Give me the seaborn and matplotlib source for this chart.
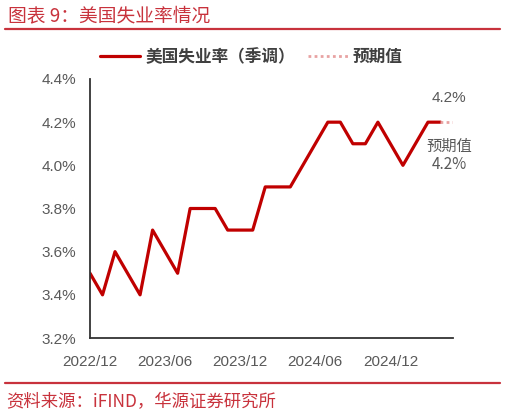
import matplotlib
matplotlib.use("Agg")
import matplotlib.pyplot as plt
import seaborn as sns
import pandas as pd
from matplotlib.lines import Line2D

# ---- data ----
months = ["2022/12", "2023/01", "2023/02", "2023/03", "2023/04", "2023/05", "2023/06",
          "2023/07", "2023/08", "2023/09", "2023/10", "2023/11", "2023/12", "2024/01",
          "2024/02", "2024/03", "2024/04", "2024/05", "2024/06", "2024/07", "2024/08",
          "2024/09", "2024/10", "2024/11", "2024/12", "2025/01", "2025/02", "2025/03",
          "2025/04"]
rates = [3.5, 3.4, 3.6, 3.5, 3.4, 3.7, 3.6, 3.5, 3.8, 3.8, 3.8, 3.7, 3.7, 3.7,
         3.9, 3.9, 3.9, 4.0, 4.1, 4.2, 4.2, 4.1, 4.1, 4.2, 4.1, 4.0, 4.1, 4.2, 4.2]
forecast_months = ["2025/04", "2025/05"]
forecast_rates = [4.2, 4.2]
tick_labels = ["2022/12", "2023/06", "2023/12", "2024/06", "2024/12"]
y_ticks = [3.2, 3.4, 3.6, 3.8, 4.0, 4.2, 4.4]
series_name = "美国失业率（季调）"
forecast_name = "预期值"
last_label = "4.2%"
forecast_label = "预期值\n4.2%"

all_months = months + [m for m in forecast_months if m not in months]
pos = {m: i for i, m in enumerate(all_months)}
df = pd.DataFrame({"x": [pos[m] for m in months], "y": rates})
df_f = pd.DataFrame({"x": [pos[m] for m in forecast_months], "y": forecast_rates})

sns.set_theme(style="white")
plt.rcParams["font.family"] = ["Noto Sans CJK SC", "DejaVu Sans"]

RED = "#C00000"
PINK = "#E8A2A2"
GRAY = "#595959"
RULE = "#C8323C"

fig = plt.figure(figsize=(5.06, 4.17), dpi=100)
ax = fig.add_axes([90 / 506, 1 - 338 / 417, (453 - 90) / 506, (338 - 79) / 417])

sns.lineplot(data=df, x="x", y="y", ax=ax, color=RED, linewidth=2.3, legend=False)
sns.lineplot(data=df_f, x="x", y="y", ax=ax, color=PINK, linewidth=2.0,
             linestyle=(0, (1, 1.2)), legend=False)

ax.set_xlim(0, len(all_months) - 1)
ax.set_ylim(3.2, 4.4)
ax.set_xticks([pos[m] for m in tick_labels])
ax.set_xticklabels(tick_labels)
ax.set_yticks(y_ticks)
ax.set_yticklabels([f"{v:.1f}%" for v in y_ticks])
ax.set_xlabel("")
ax.set_ylabel("")
for s in ["top", "right"]:
    ax.spines[s].set_visible(False)
for s in ["left", "bottom"]:
    ax.spines[s].set_color("#333333")
    ax.spines[s].set_linewidth(1.3)
ax.tick_params(axis="both", direction="in", length=4, width=1.3, color="#333333",
               labelsize=11, labelcolor=GRAY)
ax.tick_params(axis="x", pad=12)
ax.tick_params(axis="y", pad=10)
for lab in ax.get_xticklabels() + ax.get_yticklabels():
    lab.set_family(["Liberation Sans", "DejaVu Sans"])

# annotations
lx = pos[forecast_months[-1]] - 0.3
ax.text(lx, 4.31, last_label, ha="center", va="center", fontsize=11, color=GRAY,
        family=["Liberation Sans", "DejaVu Sans"], clip_on=False)
ax.text(lx, 4.045, forecast_label, ha="center", va="center", fontsize=11, color=GRAY,
        linespacing=1.1, clip_on=False)

# legend
handles = [Line2D([], [], color=RED, linewidth=2.3),
           Line2D([], [], color=PINK, linewidth=2.0, linestyle=(0, (1, 1.2)))]
leg = fig.legend(handles, [series_name, forecast_name], loc="center",
                 bbox_to_anchor=(0.497, 1 - 57 / 417), ncol=2, frameon=False,
                 fontsize=12, handlelength=2.4, columnspacing=0.8, handletextpad=0.3)
for t in leg.get_texts():
    t.set_color("#404040")
    t.set_fontweight("bold")

# title & source
fig.text(8 / 506, 1 - 16 / 417, "图表 9：美国失业率情况", color=RULE, fontsize=13.5,
         ha="left", va="center")
fig.add_artist(Line2D([5 / 506, 500 / 506], [1 - 29 / 417] * 2, color=RULE, linewidth=1.6))
fig.add_artist(Line2D([5 / 506, 500 / 506], [1 - 383 / 417] * 2, color=RULE, linewidth=1.6))
fig.text(6 / 506, 1 - 402 / 417, "资料来源：iFIND，华源证券研究所", color=RULE, fontsize=12.5,
         ha="left", va="center")

fig.savefig("out.png", dpi=100)
